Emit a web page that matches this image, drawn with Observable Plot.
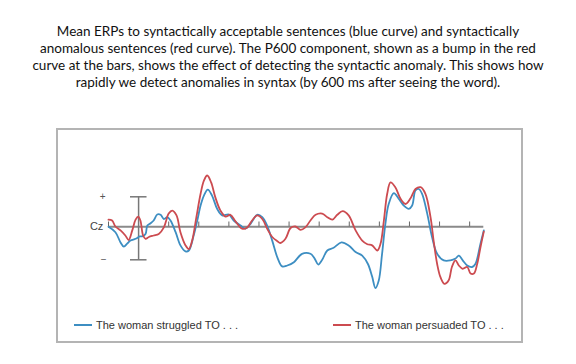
<!DOCTYPE html>
<html><head><meta charset="utf-8">
<script src="https://cdn.jsdelivr.net/npm/d3@7"></script>
<script src="https://cdn.jsdelivr.net/npm/@observablehq/plot@0.6"></script>
<style>
body{margin:0;width:576px;height:364px;position:relative;background:#fff;overflow:hidden}
#title{position:absolute;top:23px;left:0;width:576px;text-align:center;font-family:Lato,"Open Sans",sans-serif;font-size:13.5px;line-height:17px;color:#111}
#frame{position:absolute;left:56px;top:128px;width:467px;height:215px;box-sizing:border-box;border:2px solid #b4b4b4}
#chart{position:absolute;left:0;top:110px}
.leg{position:absolute;top:318px;font-family:"Liberation Sans",Arial,sans-serif;font-size:11px;line-height:14px;color:#333;white-space:nowrap}
.sw{display:inline-block;width:18px;height:2px;vertical-align:middle;margin-right:4px;position:relative;top:-1px}
</style></head>
<body>
<div id="title">Mean ERPs to syntactically acceptable sentences (blue curve) and syntactically<br>anomalous sentences (red curve). The P600 component, shown as a bump in the red<br>curve at the bars, shows the effect of detecting the syntactic anomaly. This shows how<br>rapidly we detect anomalies in syntax (by 600 ms after seeing the word).</div>
<div id="frame"></div>
<div id="chart"></div>
<div class="leg" style="left:74px"><span class="sw" style="background:#3d8ec2"></span>The woman struggled TO . . .</div>
<div class="leg" style="left:333px"><span class="sw" style="background:#cc4b50"></span>The woman persuaded TO . . .</div>
<script>
// time (ms) and amplitude (µV, positive up)
const blueT = [0,23,40,51,62,73,90,104,112,123,129,140,150,162,173,184,195,206,223,239,256,267,283,295,306,317,330,344,361,378,400,416,439,455,472,494,511,527,544,561,577,594,616,643,671,685,697,710,727,748,774,798,821,843,862,876,887,898,909,920,931,948,964,981,998,1009,1020,1031,1042,1059,1075,1092,1114,1136,1153,1164,1177,1192,1208,1219,1236,1247];
const blueV = [0,-0.9,-2.6,-3.3,-2.8,-2.3,-2.0,-1.6,-1.6,-1.2,0.2,0.6,1.05,2.05,2.0,1.3,1.6,1.05,-0.9,-3.1,-4.1,-3.95,-1.45,1.05,3.55,5.2,6.2,5.2,3.0,1.9,2.05,1.05,0.2,-0.3,0.5,2.0,1.6,0.2,-2.3,-5.1,-6.6,-6.45,-5.9,-4.5,-4.5,-5.3,-6.3,-5.5,-3.95,-3.5,-2.6,-3.1,-4.2,-4.8,-6.2,-8.3,-10.2,-8.95,-4.5,0.5,3.8,5.6,4.7,3.55,3.0,3.55,6.05,6.3,5.5,2.2,-1.7,-4.5,-5.6,-5.6,-5.3,-4.8,-5.6,-6.45,-6.7,-6.2,-2.8,-0.6];
const redT = [0,12,23,40,56,67,79,90,99,106,115,123,134,150,167,184,200,212,226,239,256,267,278,292,306,317,328,341,355,372,389,405,422,444,461,477,494,511,527,544,561,571,588,605,621,638,654,671,688,710,727,744,760,778,798,821,843,860,876,893,904,915,926,937,953,970,987,1003,1020,1037,1053,1070,1081,1092,1103,1116,1130,1141,1153,1164,1177,1192,1203,1214,1225,1236,1247];
const redV = [1.2,1.05,0.05,-0.6,-1.45,-2.2,-0.6,1.2,1.7,1.05,-1.45,-2.0,-1.7,-1.45,-1.2,-0.1,2.2,2.7,1.9,-0.9,-3.1,-3.7,-2.3,1.6,5.5,7.7,8.55,7.4,4.9,2.7,1.7,2.0,0.9,-0.3,-0.1,1.05,1.9,1.3,-0.3,-1.7,-2.4,-2.7,-2.0,-0.2,0.05,-0.5,-0.1,1.05,2.0,2.2,1.6,1.2,2.0,2.6,1.9,-0.6,-2.3,-2.9,-3.1,-3.95,-2.8,1.05,5.5,7.4,6.6,4.7,3.8,4.7,6.3,6.6,5.5,1.6,-2.6,-6.2,-8.4,-9.5,-8.95,-6.7,-5.6,-6.45,-7.0,-6.7,-7.8,-7.8,-6.2,-3.4,-0.8];
const tickTimes = [0,200,300,400,500,600,700,800,900,1000,1100,1200];
const axisEnd = 1247;
const barTime = 100, barTop = 5, barBottom = -5.5, capStart = 73, capEnd = 128;
const channel = "Cz";

const blue = blueT.map((t,i)=>({t, v: blueV[i]}));
const red = redT.map((t,i)=>({t, v: redV[i]}));
const BLUE = "#3d8ec2", RED = "#cc4b50", GRAY = "#8a8a8a";

const chart = Plot.plot({
  width: 576, height: 254,
  x: {domain: [0, axisEnd], range: [108, 483.3], axis: null},
  y: {domain: [-12, 10], range: [116.3 + 72, 116.3 - 60], axis: null},
  marks: [
    Plot.ruleY([0], {x1: 0, x2: axisEnd, stroke: GRAY, strokeWidth: 2}),
    Plot.ruleX(tickTimes, {x: d => d, y1: 0, y2: 0.8, stroke: "#666", strokeWidth: 1}),
    Plot.ruleX([barTime], {x: d => d, y1: barBottom, y2: barTop, stroke: "#777", strokeWidth: 1.5}),
    Plot.ruleY([barTop, barBottom], {y: d => d, x1: capStart, x2: capEnd, stroke: "#777", strokeWidth: 1.5}),
    Plot.line(blue, {x: "t", y: "v", stroke: BLUE, strokeWidth: 1.8, curve: "catmull-rom"}),
    Plot.line(red, {x: "t", y: "v", stroke: RED, strokeWidth: 1.8, curve: "catmull-rom"}),
    Plot.text([channel], {x: -17, y: 0, text: d => d, textAnchor: "end", fontSize: 11, fill: "#444", fontFamily: "Liberation Sans, Arial, sans-serif"}),
    Plot.text(["+"], {x: -19, y: barTop, text: d => d, fontSize: 10, fill: "#555", fontFamily: "Liberation Sans, Arial, sans-serif"}),
    Plot.text(["\u2212"], {x: -16, y: barBottom, text: d => d, fontSize: 10, fill: "#555", fontFamily: "Liberation Sans, Arial, sans-serif"})
  ]
});
document.getElementById("chart").appendChild(chart);
</script>
</body></html>
